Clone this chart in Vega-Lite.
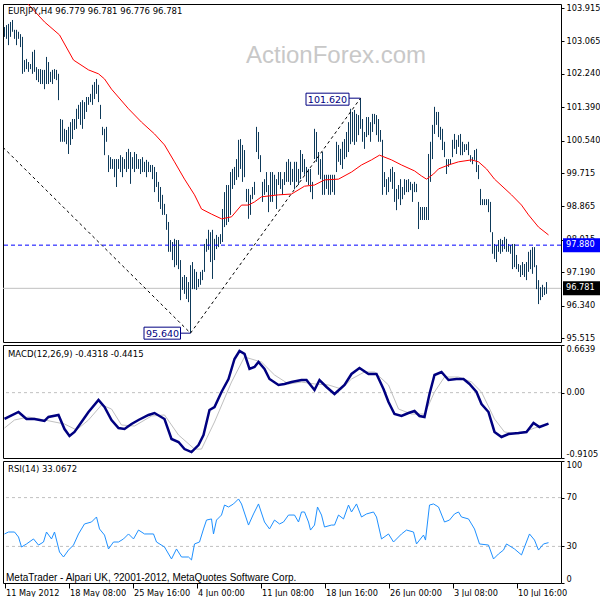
{
"$schema":"https://vega.github.io/schema/vega-lite/v6.json",
"background":"#ffffff",
"padding":{"left":2,"top":2,"right":0,"bottom":0},
"bounds":"flush",
"spacing":3,
"config":{
 "view":{"stroke":"#000000","strokeWidth":1},
 "axis":{"labelFont":"DejaVu Sans","labelFontSize":8.2,"labelColor":"#000000","tickColor":"#000000","domain":false,"grid":false,"tickSize":3,"labelPadding":2,"labelOverlap":false},
 "title":{"font":"DejaVu Sans","fontSize":8.5,"fontWeight":"normal","color":"#000000","anchor":"start","frame":"group","baseline":"middle","offset":-9,"dx":5}
},
"datasets":{
 "bars":[
{"b":0,"h":103.43,"l":103.18},{"b":1,"h":103.48,"l":103.13},{"b":2,"h":103.51,"l":102.97},{"b":3,"h":103.56,"l":103.18},{"b":4,"h":103.61,"l":103.31},{"b":5,"h":103.36,"l":103.13},{"b":6,"h":103.36,"l":102.97},{"b":7,"h":103.31,"l":103.13},{"b":8,"h":103.25,"l":102.92},{"b":9,"h":103.18,"l":102.24},
{"b":10,"h":102.59,"l":102.29},{"b":11,"h":102.62,"l":102.36},{"b":12,"h":102.54,"l":102.29},{"b":13,"h":102.49,"l":102.36},{"b":14,"h":102.8,"l":102.24},{"b":15,"h":102.85,"l":102.29},{"b":16,"h":102.41,"l":102.08},{"b":17,"h":102.36,"l":102.03},{"b":18,"h":102.36,"l":101.98},{"b":19,"h":102.34,"l":101.98},
{"b":20,"h":102.34,"l":101.85},{"b":21,"h":102.67,"l":101.98},{"b":22,"h":102.54,"l":101.98},{"b":23,"h":102.29,"l":102.03},{"b":24,"h":102.34,"l":101.98},{"b":25,"h":102.36,"l":102.11},{"b":26,"h":102.34,"l":102.08},{"b":27,"h":102.24,"l":101.57},{"b":28,"h":101.09,"l":100.51},{"b":29,"h":101.07,"l":100.51},
{"b":30,"h":100.84,"l":100.51},{"b":31,"h":100.81,"l":100.45},{"b":32,"h":100.89,"l":100.2},{"b":33,"h":101.01,"l":100.43},{"b":34,"h":101.09,"l":100.58},{"b":35,"h":101.09,"l":100.81},{"b":36,"h":101.35,"l":100.84},{"b":37,"h":101.45,"l":101.09},{"b":38,"h":101.52,"l":100.94},{"b":39,"h":101.57,"l":100.84},
{"b":40,"h":101.52,"l":101.09},{"b":41,"h":101.65,"l":101.27},{"b":42,"h":101.65,"l":101.45},{"b":43,"h":101.73,"l":101.52},{"b":44,"h":101.96,"l":101.45},{"b":45,"h":102.03,"l":101.6},{"b":46,"h":102.11,"l":101.73},{"b":47,"h":101.96,"l":101.52},{"b":48,"h":101.45,"l":101.09},{"b":49,"h":100.89,"l":100.68},
{"b":50,"h":100.84,"l":100.17},{"b":51,"h":100.89,"l":100.51},{"b":52,"h":100.17,"l":99.74},{"b":53,"h":100.12,"l":99.82},{"b":54,"h":100.07,"l":99.82},{"b":55,"h":100.07,"l":99.61},{"b":56,"h":100.07,"l":99.36},{"b":57,"h":100.07,"l":99.82},{"b":58,"h":100.17,"l":99.74},{"b":59,"h":100.12,"l":99.61},
{"b":60,"h":100.07,"l":99.82},{"b":61,"h":100.25,"l":99.74},{"b":62,"h":100.33,"l":99.82},{"b":63,"h":100.25,"l":99.44},{"b":64,"h":100.12,"l":99.82},{"b":65,"h":100.25,"l":99.74},{"b":66,"h":100.2,"l":99.82},{"b":67,"h":100.07,"l":99.82},{"b":68,"h":100.07,"l":99.69},{"b":69,"h":100.12,"l":99.74},
{"b":70,"h":100.0,"l":99.74},{"b":71,"h":100.05,"l":99.61},{"b":72,"h":100.0,"l":99.74},{"b":73,"h":99.92,"l":99.74},{"b":74,"h":99.92,"l":99.56},{"b":75,"h":99.87,"l":99.23},{"b":76,"h":99.74,"l":99.36},{"b":77,"h":99.49,"l":98.98},{"b":78,"h":99.36,"l":98.8},{"b":79,"h":99.16,"l":98.65},
{"b":80,"h":98.93,"l":98.65},{"b":81,"h":98.67,"l":98.27},{"b":82,"h":98.47,"l":97.71},{"b":83,"h":98.01,"l":97.71},{"b":84,"h":97.96,"l":97.5},{"b":85,"h":98.04,"l":97.32},{"b":86,"h":98.01,"l":97.37},{"b":87,"h":98.01,"l":97.27},{"b":88,"h":97.5,"l":96.48},{"b":89,"h":97.07,"l":96.74},
{"b":90,"h":97.12,"l":96.64},{"b":91,"h":97.07,"l":96.51},{"b":92,"h":96.94,"l":96.43},{"b":93,"h":97.37,"l":95.64},{"b":94,"h":97.45,"l":96.76},{"b":95,"h":97.27,"l":96.76},{"b":96,"h":97.2,"l":96.74},{"b":97,"h":97.02,"l":96.81},{"b":98,"h":97.2,"l":96.87},{"b":99,"h":97.25,"l":96.99},
{"b":100,"h":97.91,"l":97.2},{"b":101,"h":98.04,"l":97.71},{"b":102,"h":98.27,"l":97.76},{"b":103,"h":98.21,"l":97.45},{"b":104,"h":98.27,"l":97.02},{"b":105,"h":98.04,"l":97.5},{"b":106,"h":98.14,"l":97.78},{"b":107,"h":98.09,"l":97.83},{"b":108,"h":98.16,"l":97.91},{"b":109,"h":98.8,"l":97.96},
{"b":110,"h":99.23,"l":98.34},{"b":111,"h":99.41,"l":98.39},{"b":112,"h":99.41,"l":98.47},{"b":113,"h":99.74,"l":98.65},{"b":114,"h":99.82,"l":99.31},{"b":115,"h":99.87,"l":99.41},{"b":116,"h":100.07,"l":99.54},{"b":117,"h":100.56,"l":99.61},{"b":118,"h":100.58,"l":99.82},{"b":119,"h":100.43,"l":99.49},
{"b":120,"h":100.3,"l":99.61},{"b":121,"h":99.31,"l":98.98},{"b":122,"h":99.31,"l":98.55},{"b":123,"h":99.16,"l":98.65},{"b":124,"h":99.36,"l":99.05},{"b":125,"h":99.49,"l":99.16},{"b":126,"h":100.89,"l":100.25},{"b":127,"h":100.76,"l":100.07},{"b":128,"h":100.17,"l":99.74},{"b":129,"h":99.49,"l":98.98},
{"b":130,"h":99.56,"l":99.16},{"b":131,"h":99.74,"l":99.23},{"b":132,"h":99.41,"l":98.72},{"b":133,"h":99.74,"l":98.98},{"b":134,"h":99.74,"l":98.98},{"b":135,"h":99.67,"l":99.16},{"b":136,"h":99.56,"l":98.8},{"b":137,"h":99.74,"l":99.41},{"b":138,"h":99.74,"l":99.31},{"b":139,"h":99.56,"l":99.16},
{"b":140,"h":99.74,"l":99.41},{"b":141,"h":100.0,"l":99.49},{"b":142,"h":100.07,"l":99.49},{"b":143,"h":100.0,"l":99.41},{"b":144,"h":99.82,"l":99.49},{"b":145,"h":100.0,"l":99.31},{"b":146,"h":100.0,"l":99.49},{"b":147,"h":99.82,"l":99.41},{"b":148,"h":100.3,"l":99.56},{"b":149,"h":100.2,"l":99.74},
{"b":150,"h":100.07,"l":99.67},{"b":151,"h":99.87,"l":99.49},{"b":152,"h":99.82,"l":99.41},{"b":153,"h":99.82,"l":99.23},{"b":154,"h":99.49,"l":99.05},{"b":155,"h":100.84,"l":100.07},{"b":156,"h":100.76,"l":100.0},{"b":157,"h":100.25,"l":99.67},{"b":158,"h":100.07,"l":99.56},{"b":159,"h":100.25,"l":99.16},
{"b":160,"h":99.67,"l":99.16},{"b":161,"h":99.67,"l":99.31},{"b":162,"h":99.67,"l":99.16},{"b":163,"h":99.67,"l":99.16},{"b":164,"h":99.67,"l":99.23},{"b":165,"h":99.67,"l":99.16},{"b":166,"h":100.51,"l":99.74},{"b":167,"h":100.43,"l":100.0},{"b":168,"h":100.33,"l":99.92},{"b":169,"h":100.51,"l":99.82},
{"b":170,"h":100.58,"l":100.07},{"b":171,"h":100.76,"l":100.12},{"b":172,"h":101.01,"l":100.25},{"b":173,"h":101.35,"l":100.45},{"b":174,"h":101.27,"l":100.51},{"b":175,"h":101.32,"l":100.43},{"b":176,"h":101.22,"l":100.51},{"b":177,"h":101.19,"l":100.68},{"b":178,"h":101.62,"l":100.84},{"b":179,"h":101.09,"l":100.51},
{"b":180,"h":100.76,"l":100.33},{"b":181,"h":101.14,"l":100.63},{"b":182,"h":101.14,"l":100.68},{"b":183,"h":101.01,"l":100.51},{"b":184,"h":101.22,"l":100.76},{"b":185,"h":101.22,"l":100.96},{"b":186,"h":101.19,"l":100.68},{"b":187,"h":101.09,"l":100.51},{"b":188,"h":100.81,"l":100.51},{"b":189,"h":100.56,"l":99.16},
{"b":190,"h":99.74,"l":99.36},{"b":191,"h":99.56,"l":99.16},{"b":192,"h":99.61,"l":99.23},{"b":193,"h":99.82,"l":99.49},{"b":194,"h":99.87,"l":99.31},{"b":195,"h":99.74,"l":98.98},{"b":196,"h":99.31,"l":98.77},{"b":197,"h":99.41,"l":99.05},{"b":198,"h":99.56,"l":98.9},{"b":199,"h":99.36,"l":99.05},
{"b":200,"h":99.56,"l":99.16},{"b":201,"h":99.54,"l":99.23},{"b":202,"h":99.56,"l":99.23},{"b":203,"h":99.49,"l":99.28},{"b":204,"h":99.44,"l":98.98},{"b":205,"h":99.49,"l":99.23},{"b":206,"h":99.44,"l":99.23},{"b":207,"h":98.98,"l":98.29},{"b":208,"h":98.85,"l":98.52},{"b":209,"h":98.85,"l":98.52},
{"b":210,"h":98.85,"l":98.52},{"b":211,"h":98.85,"l":98.52},{"b":212,"h":100.2,"l":98.52},{"b":213,"h":100.51,"l":99.49},{"b":214,"h":100.94,"l":100.07},{"b":215,"h":101.4,"l":100.71},{"b":216,"h":101.27,"l":100.94},{"b":217,"h":101.27,"l":100.63},{"b":218,"h":100.89,"l":100.56},{"b":219,"h":100.84,"l":100.3},
{"b":220,"h":100.51,"l":100.12},{"b":221,"h":100.07,"l":99.69},{"b":222,"h":100.07,"l":99.87},{"b":223,"h":100.07,"l":99.94},{"b":224,"h":100.56,"l":100.12},{"b":225,"h":100.71,"l":100.33},{"b":226,"h":100.56,"l":100.2},{"b":227,"h":100.68,"l":100.38},{"b":228,"h":100.71,"l":100.17},{"b":229,"h":100.51,"l":100.17},
{"b":230,"h":100.45,"l":100.25},{"b":231,"h":100.45,"l":100.3},{"b":232,"h":100.51,"l":100.17},{"b":233,"h":100.17,"l":100.0},{"b":234,"h":100.12,"l":99.94},{"b":235,"h":100.3,"l":100.05},{"b":236,"h":100.33,"l":99.74},{"b":237,"h":99.92,"l":99.56},{"b":238,"h":99.31,"l":98.9},{"b":239,"h":99.05,"l":98.9},
{"b":240,"h":99.05,"l":98.9},{"b":241,"h":99.05,"l":98.9},{"b":242,"h":99.05,"l":98.72},{"b":243,"h":98.98,"l":98.21},{"b":244,"h":98.21,"l":97.66},{"b":245,"h":97.91,"l":97.53},{"b":246,"h":97.88,"l":97.45},{"b":247,"h":98.01,"l":97.71},{"b":248,"h":98.04,"l":97.66},{"b":249,"h":98.01,"l":97.71},
{"b":250,"h":98.09,"l":97.78},{"b":251,"h":98.04,"l":97.71},{"b":252,"h":97.91,"l":97.71},{"b":253,"h":97.88,"l":97.66},{"b":254,"h":97.91,"l":97.27},{"b":255,"h":97.91,"l":97.32},{"b":256,"h":97.63,"l":97.27},{"b":257,"h":97.4,"l":97.2},{"b":258,"h":97.37,"l":97.07},{"b":259,"h":97.45,"l":97.12},
{"b":260,"h":97.4,"l":97.07},{"b":261,"h":97.45,"l":96.99},{"b":262,"h":97.71,"l":97.2},{"b":263,"h":97.76,"l":97.27},{"b":264,"h":97.83,"l":97.15},{"b":265,"h":97.83,"l":97.32},{"b":266,"h":97.37,"l":96.76},{"b":267,"h":96.99,"l":96.38},{"b":268,"h":96.81,"l":96.48},{"b":269,"h":96.87,"l":96.56},
{"b":270,"h":96.81,"l":96.61},{"b":271,"h":96.94,"l":96.64}
 ],
 "ma":[
{"b":10.75,"v":104.07},{"b":20,"v":103.56},{"b":27.5,"v":103.23},{"b":34.5,"v":102.59},{"b":42,"v":102.34},{"b":47,"v":102.24},{"b":50,"v":102.11},{"b":53.5,"v":101.85},{"b":62,"v":101.35},{"b":68.5,"v":101.01},{"b":75,"v":100.71},{"b":80,"v":100.43},{"b":85,"v":100.0},{"b":90,"v":99.56},{"b":95,"v":99.16},{"b":98.5,"v":98.8},{"b":103.5,"v":98.67},{"b":108.5,"v":98.55},{"b":113.5,"v":98.6},{"b":118.5,"v":98.9},{"b":122,"v":98.9},{"b":125,"v":98.98},{"b":128.5,"v":99.11},{"b":137,"v":99.16},{"b":143.5,"v":99.18},{"b":150,"v":99.38},{"b":155,"v":99.41},{"b":160,"v":99.54},{"b":167,"v":99.56},{"b":173.5,"v":99.74},{"b":178.5,"v":99.92},{"b":183.5,"v":100.05},{"b":187.5,"v":100.17},{"b":193.5,"v":100.05},{"b":198.5,"v":99.92},{"b":205,"v":99.77},{"b":208.5,"v":99.64},{"b":211,"v":99.56},{"b":214.5,"v":99.69},{"b":217,"v":99.82},{"b":222,"v":99.92},{"b":227,"v":100.0},{"b":233.5,"v":100.05},{"b":237,"v":100.0},{"b":241,"v":99.82},{"b":245,"v":99.56},{"b":253.5,"v":99.16},{"b":258.5,"v":98.9},{"b":262,"v":98.65},{"b":267,"v":98.34},{"b":272,"v":98.14}
 ],
 "trend":[
{"seg":"a","b":-0.75,"p":100.37},{"seg":"a","b":93,"p":95.64},{"seg":"b","b":93,"p":95.64},{"seg":"b","b":178,"p":101.62}
 ],
 "macd":[
{"b":0,"m":-0.367},{"b":7,"m":-0.269},{"b":11,"m":-0.367},{"b":15,"m":-0.367},{"b":20,"m":-0.395},{"b":22,"m":-0.339},{"b":27,"m":-0.311},{"b":30,"m":-0.507},{"b":32.5,"m":-0.604},{"b":35,"m":-0.548},{"b":38.5,"m":-0.409},{"b":42,"m":-0.27},{"b":47,"m":-0.102},{"b":50,"m":-0.2},{"b":53.5,"m":-0.381},{"b":57,"m":-0.493},{"b":60,"m":-0.507},{"b":63.5,"m":-0.437},{"b":67,"m":-0.381},{"b":72,"m":-0.311},{"b":75,"m":-0.284},{"b":80,"m":-0.367},{"b":83.5,"m":-0.646},{"b":87,"m":-0.688},{"b":90,"m":-0.786},{"b":93.5,"m":-0.828},{"b":97,"m":-0.73},{"b":99.5,"m":-0.59},{"b":102.5,"m":-0.242},{"b":105,"m":-0.2},{"b":108.5,"m":0.009},{"b":112,"m":0.19},{"b":115,"m":0.469},{"b":117.5,"m":0.58},{"b":120,"m":0.539},{"b":122.5,"m":0.33},{"b":125,"m":0.358},{"b":127,"m":0.427},{"b":130,"m":0.33},{"b":132.5,"m":0.19},{"b":137,"m":0.107},{"b":140,"m":0.121},{"b":143.5,"m":0.148},{"b":148.5,"m":0.176},{"b":151,"m":0.176},{"b":155,"m":0.037},{"b":157.5,"m":0.176},{"b":161,"m":0.079},{"b":165,"m":-0.019},{"b":170,"m":0.107},{"b":173.5,"m":0.26},{"b":177.5,"m":0.343},{"b":182,"m":0.26},{"b":186,"m":0.26},{"b":189.5,"m":0.051},{"b":192,"m":-0.13},{"b":195,"m":-0.298},{"b":198.5,"m":-0.325},{"b":202,"m":-0.284},{"b":205,"m":-0.256},{"b":207.5,"m":-0.325},{"b":210,"m":-0.339},{"b":212.5,"m":-0.019},{"b":215,"m":0.246},{"b":218.5,"m":0.288},{"b":222,"m":0.176},{"b":226,"m":0.19},{"b":229.5,"m":0.19},{"b":232.5,"m":0.121},{"b":236,"m":0.009},{"b":238.5,"m":-0.158},{"b":242,"m":-0.27},{"b":245,"m":-0.548},{"b":248.5,"m":-0.618},{"b":252,"m":-0.576},{"b":257,"m":-0.562},{"b":261,"m":-0.548},{"b":264.5,"m":-0.423},{"b":267.5,"m":-0.479},{"b":272,"m":-0.432}
 ],
 "signal":[
{"b":0,"s":-0.493},{"b":5,"s":-0.381},{"b":12,"s":-0.339},{"b":20,"s":-0.381},{"b":30,"s":-0.437},{"b":36,"s":-0.52},{"b":42,"s":-0.381},{"b":48.5,"s":-0.172},{"b":53.5,"s":-0.228},{"b":58.5,"s":-0.451},{"b":65,"s":-0.465},{"b":73.5,"s":-0.325},{"b":80,"s":-0.311},{"b":87,"s":-0.59},{"b":95,"s":-0.786},{"b":98.5,"s":-0.786},{"b":105,"s":-0.409},{"b":113.5,"s":0.148},{"b":120,"s":0.497},{"b":128.5,"s":0.427},{"b":135,"s":0.246},{"b":142,"s":0.121},{"b":148.5,"s":0.148},{"b":155,"s":0.121},{"b":162,"s":0.107},{"b":168.5,"s":0.051},{"b":173.5,"s":0.19},{"b":180,"s":0.288},{"b":185,"s":0.288},{"b":192,"s":0.107},{"b":197,"s":-0.228},{"b":203.5,"s":-0.298},{"b":210,"s":-0.298},{"b":215,"s":0.009},{"b":220,"s":0.218},{"b":227,"s":0.218},{"b":233.5,"s":0.148},{"b":238.5,"s":0.009},{"b":245,"s":-0.367},{"b":250,"s":-0.548},{"b":257,"s":-0.576},{"b":265,"s":-0.493},{"b":272,"s":-0.442}
 ],
 "rsi":[
{"b":0,"r":40.2},{"b":2,"r":41.8},{"b":5,"r":41.8},{"b":7,"r":37.7},{"b":8.5,"r":29.5},{"b":11,"r":32.0},{"b":14.5,"r":36.1},{"b":17,"r":31.1},{"b":19.5,"r":33.6},{"b":21,"r":41.8},{"b":23.5,"r":36.1},{"b":25,"r":41.8},{"b":27.5,"r":25.4},{"b":29.5,"r":21.3},{"b":32,"r":27.0},{"b":34.5,"r":31.1},{"b":37,"r":40.2},{"b":40,"r":48.4},{"b":43.5,"r":50.0},{"b":46,"r":54.1},{"b":47.5,"r":44.3},{"b":50,"r":39.3},{"b":52,"r":27.9},{"b":54.5,"r":33.6},{"b":57,"r":33.6},{"b":59.5,"r":36.1},{"b":62,"r":40.2},{"b":64.5,"r":36.1},{"b":67,"r":43.4},{"b":70,"r":40.2},{"b":74.5,"r":40.2},{"b":76,"r":33.6},{"b":80,"r":29.5},{"b":83.5,"r":19.7},{"b":86,"r":27.9},{"b":88.5,"r":21.3},{"b":92,"r":21.3},{"b":93.5,"r":18.9},{"b":95,"r":32.0},{"b":97.5,"r":33.6},{"b":99.5,"r":44.3},{"b":101,"r":51.6},{"b":103.5,"r":52.5},{"b":104.5,"r":40.2},{"b":106,"r":51.6},{"b":108.5,"r":55.7},{"b":110,"r":63.9},{"b":112,"r":62.3},{"b":114.5,"r":64.8},{"b":117,"r":68.9},{"b":118.5,"r":64.8},{"b":122,"r":47.5},{"b":124.5,"r":56.6},{"b":127,"r":64.8},{"b":130,"r":50.0},{"b":132.5,"r":44.3},{"b":135,"r":51.6},{"b":137.5,"r":48.4},{"b":139.5,"r":50.0},{"b":142,"r":55.7},{"b":145,"r":55.7},{"b":147,"r":50.0},{"b":148.5,"r":58.2},{"b":150,"r":58.2},{"b":152,"r":50.0},{"b":153,"r":43.4},{"b":155,"r":47.5},{"b":156.5,"r":62.3},{"b":158.5,"r":55.7},{"b":160,"r":45.9},{"b":163.5,"r":47.5},{"b":165,"r":47.5},{"b":167,"r":55.7},{"b":169.5,"r":52.5},{"b":172,"r":63.9},{"b":173.5,"r":58.2},{"b":176,"r":64.8},{"b":178.5,"r":54.1},{"b":181,"r":56.6},{"b":184.5,"r":58.2},{"b":186,"r":54.1},{"b":188.5,"r":36.1},{"b":192,"r":40.2},{"b":194.5,"r":33.6},{"b":198.5,"r":40.2},{"b":201,"r":43.4},{"b":204.5,"r":41.8},{"b":206,"r":32.0},{"b":209.5,"r":39.3},{"b":210.5,"r":35.2},{"b":212.5,"r":63.9},{"b":214.5,"r":64.8},{"b":217,"r":62.3},{"b":220,"r":50.0},{"b":222.5,"r":51.6},{"b":225,"r":56.6},{"b":227,"r":58.2},{"b":228.5,"r":54.1},{"b":232,"r":52.5},{"b":233.5,"r":48.4},{"b":235,"r":44.3},{"b":237.5,"r":32.0},{"b":242,"r":31.1},{"b":244.5,"r":19.7},{"b":247,"r":23.8},{"b":249.5,"r":27.0},{"b":251,"r":32.0},{"b":255,"r":27.9},{"b":258.5,"r":23.0},{"b":260,"r":29.5},{"b":262.5,"r":40.2},{"b":265,"r":35.2},{"b":267,"r":27.0},{"b":269.5,"r":32.0},{"b":272,"r":33.07}
 ]
},
"vconcat":[
{
 "width":558,"height":338,
 "title":{"text":"EURJPY,H4  96.779 96.781 96.776 96.781","offset":-10,"dy":2},
 "layer":[
  {"data":{"values":[{"t":"ActionForex.com"}]},"mark":{"type":"text","font":"Liberation Sans","fontSize":24,"color":"#c8c8c8","align":"center","baseline":"middle"},
   "encoding":{"x":{"datum":165.75,"type":"quantitative","axis":null,"title":null},"y":{"datum":102.69,"type":"quantitative","title":null},"text":{"field":"t"}}},
  {"data":{"values":[{"p":96.781}]},"mark":{"type":"rule","color":"#c0c0c0","strokeWidth":1},
   "encoding":{"y":{"field":"p","type":"quantitative","title":null}}},
  {"data":{"name":"bars"},"mark":{"type":"rule","color":"#0e3a5a","strokeWidth":1},
   "encoding":{
    "x":{"field":"b","type":"quantitative","scale":{"domain":[-0.75,278.25],"nice":false,"zero":false},"axis":null,"title":null},
    "y":{"field":"h","type":"quantitative","scale":{"domain":[95.415,104.017],"nice":false,"zero":false},"title":null,
         "axis":{"orient":"right","values":[95.515,96.34,97.19,98.015,98.865,99.715,100.54,101.39,102.24,103.065,103.915],"tickCount":20,"labelExpr":"format(datum.value,'.3f')","labelOverlap":false}},
    "y2":{"field":"l"}}},
  {"data":{"name":"ma"},"mark":{"type":"line","color":"#ff0000","strokeWidth":1,"clip":true},
   "encoding":{"x":{"field":"b","type":"quantitative","axis":null,"title":null},"y":{"field":"v","type":"quantitative","title":null}}},
  {"data":{"name":"trend"},"mark":{"type":"line","color":"#000000","strokeWidth":1,"strokeDash":[3,3],"clip":true},
   "encoding":{"x":{"field":"b","type":"quantitative","axis":null,"title":null},"y":{"field":"p","type":"quantitative","title":null},"detail":{"field":"seg"}}},
  {"data":{"values":[{"p":97.88}]},"mark":{"type":"rule","color":"#0000ff","strokeWidth":1,"strokeDash":[4,3]},
   "encoding":{"y":{"field":"p","type":"quantitative","title":null}}},
  {"data":{"values":[{"b":93,"p":95.64}]},"mark":{"type":"rule","color":"#000080","strokeWidth":1,"xOffset":-10,"x2Offset":0},
   "encoding":{"x":{"field":"b","type":"quantitative","axis":null,"title":null},"x2":{"field":"b"},"y":{"field":"p","type":"quantitative","title":null}}},
  {"data":{"values":[{"b":93,"p":95.64}]},"mark":{"type":"rect","fill":"#ffffff","stroke":"#000080","strokeWidth":1,"xOffset":-46.5,"x2Offset":-10,"yOffset":-6,"y2Offset":6},
   "encoding":{"x":{"field":"b","type":"quantitative","axis":null,"title":null},"x2":{"field":"b"},"y":{"field":"p","type":"quantitative","title":null},"y2":{"field":"p"}}},
  {"data":{"values":[{"b":93,"p":95.64,"t":"95.640"}]},"mark":{"type":"text","font":"DejaVu Sans","fontSize":9.5,"color":"#000080","align":"center","baseline":"middle","xOffset":-28,"yOffset":0.5},
   "encoding":{"x":{"field":"b","type":"quantitative","axis":null,"title":null},"y":{"field":"p","type":"quantitative","title":null},"text":{"field":"t"}}},
  {"data":{"values":[{"b":178,"p":101.62}]},"mark":{"type":"rule","color":"#000080","strokeWidth":1,"xOffset":-11.5,"x2Offset":0},
   "encoding":{"x":{"field":"b","type":"quantitative","axis":null,"title":null},"x2":{"field":"b"},"y":{"field":"p","type":"quantitative","title":null}}},
  {"data":{"values":[{"b":178,"p":101.62}]},"mark":{"type":"rect","fill":"#ffffff","stroke":"#000080","strokeWidth":1,"xOffset":-54.5,"x2Offset":-11.5,"yOffset":-5,"y2Offset":7},
   "encoding":{"x":{"field":"b","type":"quantitative","axis":null,"title":null},"x2":{"field":"b"},"y":{"field":"p","type":"quantitative","title":null},"y2":{"field":"p"}}},
  {"data":{"values":[{"b":178,"p":101.62,"t":"101.620"}]},"mark":{"type":"text","font":"DejaVu Sans","fontSize":9.5,"color":"#000080","align":"center","baseline":"middle","xOffset":-33,"yOffset":1.5},
   "encoding":{"x":{"field":"b","type":"quantitative","axis":null,"title":null},"y":{"field":"p","type":"quantitative","title":null},"text":{"field":"t"}}},
  {"data":{"values":[{"p":97.88,"c":"#0000ff"},{"p":96.781,"c":"#000000"}]},"mark":{"type":"rect","yOffset":-7,"y2Offset":7},
   "encoding":{"x":{"datum":279.25,"type":"quantitative","axis":null,"title":null},"x2":{"datum":298.5},"y":{"field":"p","type":"quantitative","title":null},"y2":{"field":"p"},"color":{"field":"c","type":"nominal","scale":null}}},
  {"data":{"values":[{"p":97.88,"t":"97.880"},{"p":96.781,"t":"96.781"}]},"mark":{"type":"text","font":"DejaVu Sans","fontSize":8.2,"color":"#ffffff","align":"left","baseline":"middle"},
   "encoding":{"x":{"datum":280.75,"type":"quantitative","axis":null,"title":null},"y":{"field":"p","type":"quantitative","title":null},"text":{"field":"t"}}}
 ]
},
{
 "width":558,"height":113,
 "title":{"text":"MACD(12,26,9) -0.4318 -0.4415","offset":-10,"dy":4},
 "layer":[
  {"data":{"values":[{"z":0}]},"mark":{"type":"rule","color":"#c0c0c0","strokeWidth":1,"strokeDash":[3,3]},
   "encoding":{"y":{"field":"z","type":"quantitative","scale":{"domain":[-0.9105,0.6639],"nice":false,"zero":false},"title":null,
     "axis":{"orient":"right","values":[-0.9105,0,0.6639],"tickCount":10,"labelFlush":true,"labelOverlap":false,"labelExpr":"datum.value < -0.5 ? '-0.9105' : (datum.value > 0.5 ? '0.6639' : '0.00')"}}}},
  {"data":{"name":"signal"},"mark":{"type":"line","color":"#c0c0c0","strokeWidth":1,"clip":true},
   "encoding":{"x":{"field":"b","type":"quantitative","scale":{"domain":[-0.75,278.25],"nice":false,"zero":false},"axis":null,"title":null},"y":{"field":"s","type":"quantitative","title":null}}},
  {"data":{"name":"macd"},"mark":{"type":"line","color":"#000080","strokeWidth":2.5,"clip":true},
   "encoding":{"x":{"field":"b","type":"quantitative","axis":null,"title":null},"y":{"field":"m","type":"quantitative","title":null}}}
 ]
},
{
 "width":558,"height":122,
 "title":{"text":"RSI(14) 33.0672","offset":-10,"dy":3},
 "layer":[
  {"data":{"values":[{"v":30},{"v":70}]},"mark":{"type":"rule","color":"#c0c0c0","strokeWidth":1,"strokeDash":[3,3]},
   "encoding":{"y":{"field":"v","type":"quantitative","scale":{"domain":[0,100],"nice":false,"zero":false},"title":null,
     "axis":{"orient":"right","values":[0,30,70,100],"tickCount":10,"labelFlush":true,"labelOverlap":false,"format":"d"}}}},
  {"data":{"name":"rsi"},"mark":{"type":"line","color":"#1e90ff","strokeWidth":1,"clip":true},
   "encoding":{"x":{"field":"b","type":"quantitative","scale":{"domain":[-0.75,278.25],"nice":false,"zero":false},"title":null,
       "axis":{"values":[0,32,64,96,128,160,192,224,256],"tickCount":20,"labelAlign":"left","labelOffset":1,"tickSize":5,"labelPadding":1,"labelFlush":false,"labelOverlap":false,
         "labelExpr":"['11 May 2012','18 May 08:00','25 May 16:00','4 Jun 00:00','11 Jun 08:00','18 Jun 16:00','26 Jun 00:00','3 Jul 08:00','10 Jul 16:00'][round(datum.value/32)]"}},
     "y":{"field":"r","type":"quantitative","title":null}}},
  {"data":{"values":[{"t":"MetaTrader - Alpari UK, ?2001-2012, MetaQuotes Software Corp."}]},"mark":{"type":"text","font":"Liberation Sans","fontSize":10,"color":"#000000","align":"left","baseline":"middle"},
   "encoding":{"x":{"datum":0.75,"type":"quantitative","title":null},"y":{"datum":4.1,"type":"quantitative","title":null},"text":{"field":"t"}}}
 ]
}
]
}
